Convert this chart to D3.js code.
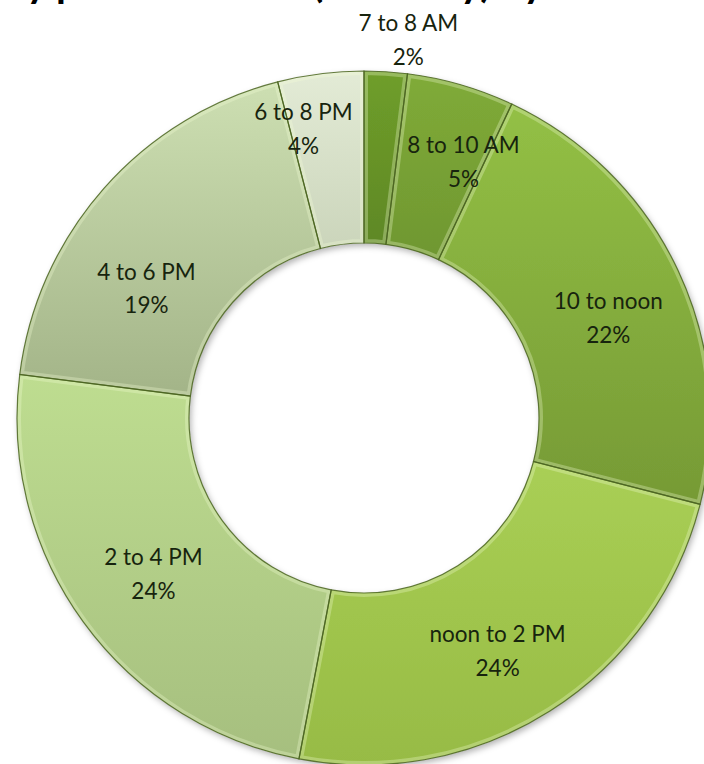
<!DOCTYPE html>
<html><head><meta charset="utf-8">
<script src="https://cdn.jsdelivr.net/npm/d3@7"></script>
<style>body{margin:0;background:#fff;} svg{display:block}</style>
</head><body>
<svg id="c" width="704" height="764"></svg>
<script>
// ---- data ----
const categories = ["7 to 8 AM", "8 to 10 AM", "10 to noon", "noon to 2 PM", "2 to 4 PM", "4 to 6 PM", "6 to 8 PM"];
const values = [2, 5, 22, 24, 24, 19, 4];
const titleText = "Daily pattern of use (weekday) by hour";

// ---- styling / layout (not data) ----
const colorsTop    = ["#6f9e2a", "#80ab38", "#93c045", "#a9cf55", "#bedd90", "#cddfb2", "#e3ebd6"];
const colorsBottom = ["#5f8825", "#6f9731", "#769a35", "#97bb45", "#a6bf7f", "#a3b488", "#cbd5bb"];
const labelAngleShift = [3, 4.6, 1.9, 2, 0.4, -9.6, -4.4];
const labelRadius = [386, 280, 266, 264, 259, 256, 301];

const svg = d3.select("#c");
const cx = 364, cy = 418, rOuter = 347, rInner = 175;
const defs = svg.append("defs");

const shadow = defs.append("filter").attr("id", "sh").attr("x", "-20%").attr("y", "-20%").attr("width", "140%").attr("height", "140%");
shadow.append("feDropShadow").attr("dx", 2).attr("dy", 3).attr("stdDeviation", 3).attr("flood-color", "#000").attr("flood-opacity", 0.3);

categories.forEach((c, i) => {
  const g = defs.append("linearGradient").attr("id", "g" + i).attr("x1", 0).attr("y1", 0).attr("x2", 0).attr("y2", 1);
  g.append("stop").attr("offset", "0%").attr("stop-color", colorsTop[i]);
  g.append("stop").attr("offset", "100%").attr("stop-color", colorsBottom[i]);
});

// title (cropped at top in the reference: only descenders visible)
const title = svg.append("text")
  .attr("x", 0).attr("y", -3)
  .attr("font-family", "Lato, 'Open Sans', sans-serif")
  .attr("font-weight", "bold")
  .attr("font-size", 40)
  .attr("fill", "#000")
  .text(titleText);
const pIdx = titleText.indexOf("p");
const pPos = title.node().getStartPositionOfChar(pIdx).x;
title.attr("x", 56 - pPos);

const pie = d3.pie().sort(null).value(d => d).startAngle(0).endAngle(2 * Math.PI);
const arcs = pie(values);
const arc = d3.arc().innerRadius(rInner).outerRadius(rOuter);

const g = svg.append("g").attr("transform", `translate(${cx},${cy})`);

arcs.forEach((a, i) => {
  defs.append("clipPath").attr("id", "cp" + i).append("path").attr("d", arc(a));
});

const ring = g.append("g").attr("filter", "url(#sh)");
ring.selectAll("path.slice").data(arcs).join("path")
  .attr("class", "slice")
  .attr("d", arc)
  .attr("fill", (d, i) => `url(#g${i})`);

// bevel: light glow along edges
g.selectAll("path.hl").data(arcs).join("path")
  .attr("class", "hl")
  .attr("d", arc)
  .attr("clip-path", (d, i) => `url(#cp${i})`)
  .attr("fill", "none")
  .attr("stroke", "#f4ffd8")
  .attr("stroke-opacity", 0.3)
  .attr("stroke-width", 8);

// dark outline
g.selectAll("path.ol").data(arcs).join("path")
  .attr("class", "ol")
  .attr("d", arc)
  .attr("fill", "none")
  .attr("stroke", "#4a6420")
  .attr("stroke-opacity", 0.85)
  .attr("stroke-width", 1.2);

// labels
const total = d3.sum(values);
const fmt = v => Math.round(v / total * 100) + "%";
const lab = g.selectAll("text.lab").data(arcs).join("text")
  .attr("class", "lab")
  .attr("text-anchor", "middle")
  .attr("font-family", "Lato, 'Open Sans', sans-serif")
  .attr("font-size", 22.5)
  .attr("fill", "#17240e")
  .attr("transform", (d, i) => {
    const ang = (d.startAngle + d.endAngle) / 2 + labelAngleShift[i] * Math.PI / 180;
    const r = labelRadius[i];
    return `translate(${r * Math.sin(ang)},${-r * Math.cos(ang)})`;
  });
lab.append("tspan").attr("x", 0).attr("dy", "-0.15em").text((d, i) => categories[i]);
lab.append("tspan").attr("x", 0).attr("dy", "1.5em").text(d => fmt(d.data));
</script>
</body></html>
